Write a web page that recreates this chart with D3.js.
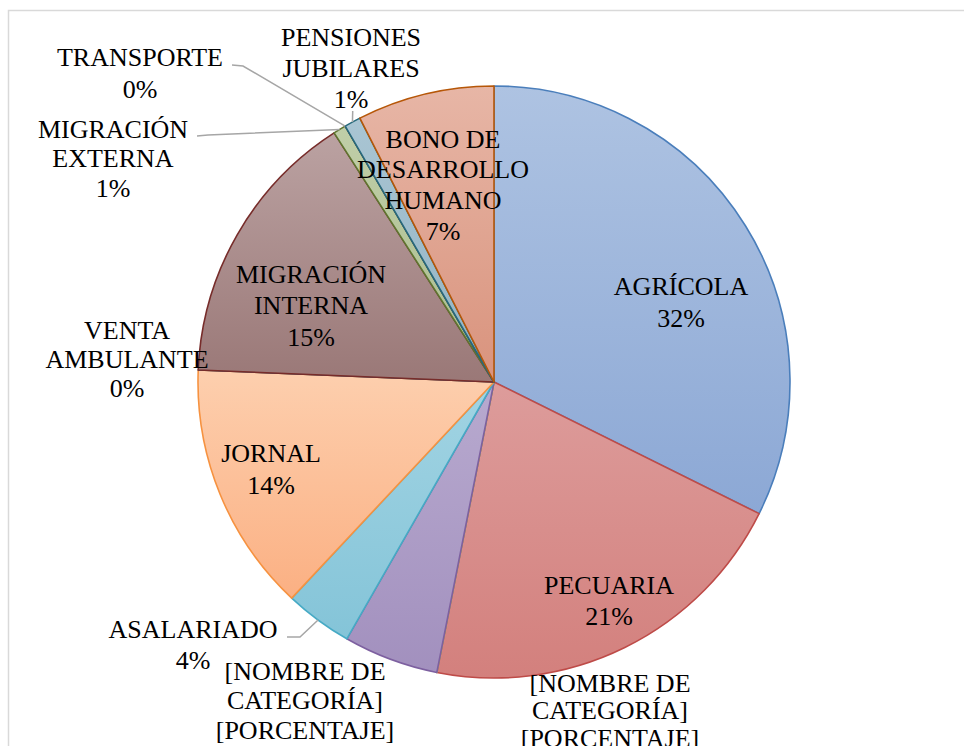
<!DOCTYPE html>
<html><head><meta charset="utf-8">
<script src="https://cdn.jsdelivr.net/npm/d3@7"></script>
</head><body>
<svg id="chart" width="964" height="746" style="position:absolute;left:0;top:0"></svg>
<script>
// ---- data ----
const categories = ["AGRÍCOLA","PECUARIA","[NOMBRE DE CATEGORÍA]","[NOMBRE DE CATEGORÍA]","ASALARIADO","JORNAL","VENTA AMBULANTE","MIGRACIÓN INTERNA","MIGRACIÓN EXTERNA","TRANSPORTE","PENSIONES JUBILARES","BONO DE DESARROLLO HUMANO"];
const values = [32.4, 20.8, 0, 5.2, 3.7, 13.7, 0, 15.3, 0.7, 0, 0.9, 7.5];
const labelLines = [
  ["AGRÍCOLA","32%"],
  ["PECUARIA","21%"],
  ["[NOMBRE DE","CATEGORÍA]","[PORCENTAJE]"],
  ["[NOMBRE DE","CATEGORÍA]","[PORCENTAJE]"],
  ["ASALARIADO","4%"],
  ["JORNAL","14%"],
  ["VENTA","AMBULANTE","0%"],
  ["MIGRACIÓN","INTERNA","15%"],
  ["MIGRACIÓN","EXTERNA","1%"],
  ["TRANSPORTE","0%"],
  ["PENSIONES","JUBILARES","1%"],
  ["BONO DE","DESARROLLO","HUMANO","7%"]
];
// ---- styles ----
const fillTop = ["#aec3e2","#dd9c9b","#bcd293","#b8aacf","#a2d4e3","#fdcfae","#8ea6c9","#bba2a2","#c0cea8","#ab9fbc","#a9c5d3","#e7b6a6"];
const fillBot = ["#8ca8d5","#d3807d","#a6c277","#a290be","#84c4d8","#fbb083","#7890b8","#9a7877","#aabd8d","#8f80a4","#92b3c3","#d9937d"];
const strokes = ["#4a7ebb","#be4b48","#98b954","#7d60a0","#46aac5","#f69240","#2c4d75","#772c2a","#5f7530","#4d3b62","#276a7c","#b65708"];
// label layout: [centerX, firstLineCenterY, lineSpacing]
const labelLayout = [
  [681,286,32],[609,585,31],[610,683,27.5],[305,671,29.5],[193,629,31],[271,453,32],
  [127,330,29],[311,274,31.5],[113,129,29.5],[140,57,32],[351,37,31],[443,139,30.7]
];
// leader start points (null = none)
const leaders = [null,null,null,null,[[287,637],[300,637]],null,null,null,[[197,136],[208,135]],[[232,65],[243,66]],[[352.7,111]],null];

const svg = d3.select("#chart");
const cx = 494, cy = 382, R = 296;

// frame
svg.append("rect").attr("x",8.5).attr("y",10.5).attr("width",970).attr("height",760)
  .attr("fill","none").attr("stroke","#d9d9d9").attr("stroke-width",1.5);

const defs = svg.append("defs");
categories.forEach((c,i)=>{
  const g = defs.append("linearGradient").attr("id","g"+i).attr("x1",0).attr("y1",0).attr("x2",0).attr("y2",1);
  g.append("stop").attr("offset","0%").attr("stop-color",fillTop[i]);
  g.append("stop").attr("offset","100%").attr("stop-color",fillBot[i]);
});

const pie = d3.pie().sort(null).value(d=>d)(values);
const arc = d3.arc().innerRadius(0).outerRadius(R);
const rimArc = d3.arc().innerRadius(R).outerRadius(R);

const g = svg.append("g").attr("transform",`translate(${cx},${cy})`);
g.selectAll("path.slice").data(pie).join("path")
  .attr("class","slice")
  .attr("d",arc)
  .attr("fill",(d,i)=>`url(#g${i})`)
  .attr("stroke",(d,i)=>strokes[i])
  .attr("stroke-width",1.6)
  .attr("stroke-linejoin","round");

// leader lines
pie.forEach((d,i)=>{
  if(!leaders[i]) return;
  const p = rimArc.centroid(d);
  const pts = leaders[i].concat([[p[0]+cx,p[1]+cy]]);
  svg.append("path").attr("d",d3.line()(pts)).attr("fill","none")
    .attr("stroke","#a6a6a6").attr("stroke-width",1.5);
});

// labels (one text element per line, centred by measuring)
const fs = 26;
labelLines.forEach((lines,i)=>{
  const [x,y0,sp] = labelLayout[i];
  lines.forEach((s,k)=>{
    const t = svg.append("text")
      .attr("y",y0 + k*sp + fs*0.33)
      .attr("font-size",fs)
      .style("font-family",`"Liberation Serif"`)
      .text(s);
    const w = t.node().getComputedTextLength();
    t.attr("x", x - w/2);
  });
});
</script>
</body></html>
